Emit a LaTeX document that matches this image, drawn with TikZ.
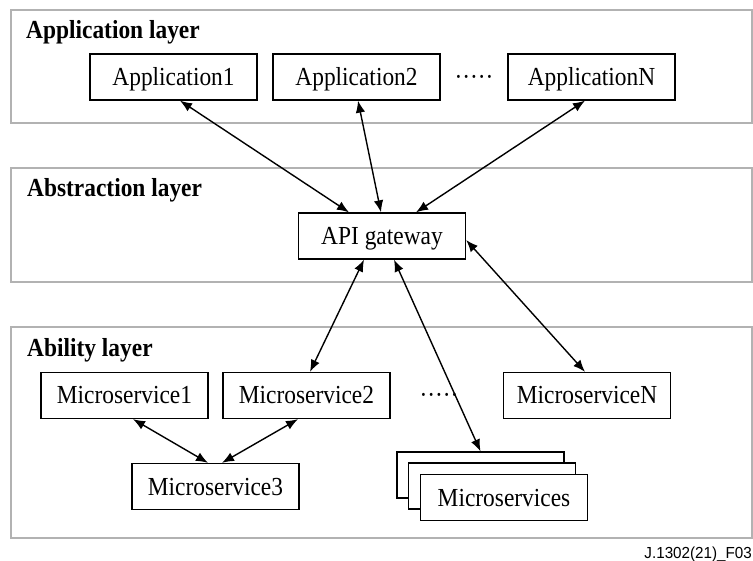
\documentclass[tikz,border=0pt]{standalone}
\usepackage{fontspec}
\setmainfont{Liberation Serif}[FakeStretch=0.9]
\newfontfamily\figfont{Liberation Sans}[FakeStretch=0.95]
\usetikzlibrary{positioning, arrows.meta, calc}

\begin{document}
\begin{tikzpicture}[
    x=1pt, y=-1pt,
    >={Latex[length=12pt, width=9.5pt]},
    boxnode/.style={rectangle, draw=black, fill=white, line width=1.3pt, minimum width=167pt, minimum height=46pt, inner sep=0pt, text height=17pt, text depth=0pt, font=\fontsize{26}{30}\selectfont},
    layerbox/.style={draw=black!30, line width=1.5pt},
    layerlabel/.style={anchor=base west, inner sep=0pt, font=\fontsize{26}{30}\selectfont\bfseries},
    dotsnode/.style={inner sep=0pt, text height=17pt, text depth=0pt, font=\fontsize{26}{30}\selectfont}
]
\useasboundingbox (0,0) rectangle (753,561);

\draw[layerbox] (11,10) rectangle (752,123);
\draw[layerbox] (11,168) rectangle (752,282);
\draw[layerbox] (11,327) rectangle (752,538);

\node[layerlabel](l_app) at (26,39) {Application layer};
\node[layerlabel](l_abs) at (27,197) {Abstraction layer};
\node[layerlabel](l_abi) at (27,357) {Ability layer};

\node[boxnode](app1) at (173.5,77) {Application1};
\node[boxnode](app2) at (356.5,77) {Application2};
\node[dotsnode](dots1) at (474,77) {·····};
\node[boxnode](appN) at (591.5,77) {ApplicationN};

\node[boxnode](api) at (382,236) {API gateway};

\node[boxnode](ms1) at (124.5,395.5) {Microservice1};
\node[boxnode](ms2) at (306.5,395.5) {Microservice2};
\node[dotsnode](dots2) at (439,395.5) {·····};
\node[boxnode](msN) at (587,395.5) {MicroserviceN};
\node[boxnode](ms3) at (215.5,486.5) {Microservice3};

\node[boxnode](msb1) at (480.5,475) {};
\node[boxnode](msb2) at (492,486) {};
\node[boxnode](msb3) at (504,497.5) {Microservices};

\draw[<->, line width=1.4pt] ([xshift=6.5pt]app1.south) -- ([xshift=-33pt]api.north);
\draw[<->, line width=1.4pt] ([xshift=1.5pt]app2.south) -- ([xshift=-1pt]api.north);
\draw[<->, line width=1.4pt] ([xshift=-6.5pt]appN.south) -- ([xshift=34pt]api.north);

\draw[<->, line width=1.4pt] ([xshift=-18pt]api.south) -- ([xshift=3.5pt]ms2.north);
\draw[<->, line width=1.4pt] ([xshift=12pt]api.south) -- (msb1.north);
\draw[<->, line width=1.4pt] ([yshift=-4pt]api.east) -- ([xshift=-2pt]msN.north);

\draw[<->, line width=1.4pt] ([xshift=8.5pt]ms1.south) -- ([xshift=-7.5pt]ms3.north);
\draw[<->, line width=1.4pt] ([xshift=-8.5pt]ms2.south) -- ([xshift=6.5pt]ms3.north);

\node[anchor=base east, inner sep=0pt, font=\figfont\fontsize{16}{18}\selectfont](fig_id) at (752,558) {J.1302(21)\_F03};
\end{tikzpicture}
\end{document}
